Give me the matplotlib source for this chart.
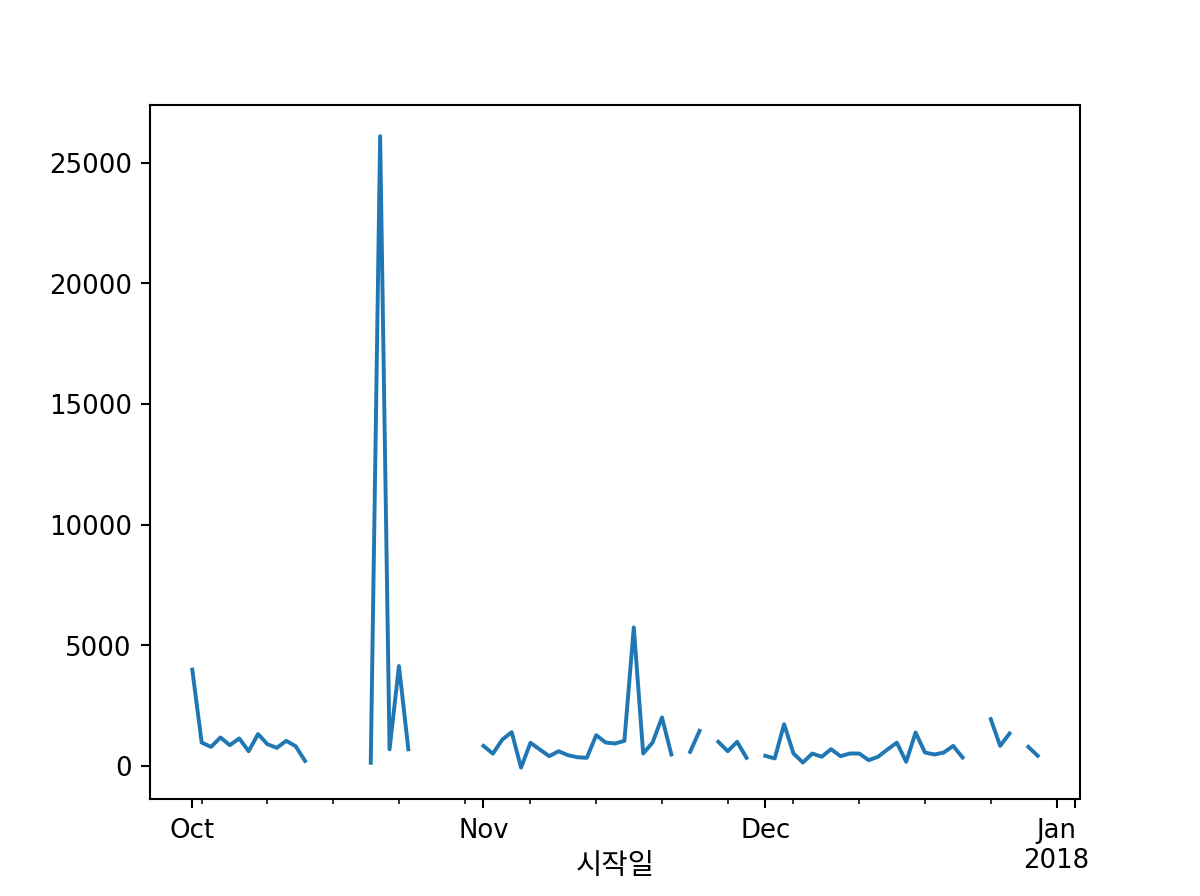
import numpy as np
import pandas as pd
import matplotlib
matplotlib.use("Agg")
import matplotlib.pyplot as plt

plt.rcParams['font.family'] = ['DejaVu Sans', 'Noto Sans CJK KR']

# daily values, 2017-10-01 .. 2017-12-30 (NaN = missing day)
start_date = '2017-10-01'
oct_vals = [4000, 980, 800, 1190, 870, 1150, 620, 1330, 910, 760, 1050, 830, 220,
            None, None, None, None, None, None,
            140, 26100, 700, 4150, 700,
            None, None, None, None, None, None, None]
nov_vals = [840, 520, 1100, 1410, -60, 970, 690, 415, 620, 455, 370, 345, 1285, 980,
            940, 1050, 5750, 525, 980, 2020, 485, None, 595, 1465, None, 1010, 620,
            1010, 345, None]
dec_vals = [430, 320, 1740, 525, 150, 525, 390, 705, 415, 525, 525, 250, 390, 690,
            975, 180, 1395, 565, 485, 565, 840, 360, None, None, 1950, 840, 1355,
            None, 800, 430]

values = np.array([np.nan if v is None else v for v in oct_vals + nov_vals + dec_vals], dtype=float)
dates = pd.date_range(start_date, periods=len(values), freq='D')
s = pd.Series(values, index=dates)

month_ticks = pd.to_datetime(['2017-10-01', '2017-11-01', '2017-12-01', '2018-01-01', '2018-01-03'])
month_labels = ['Oct', 'Nov', 'Dec', 'Jan\n2018', '']
week_ticks = pd.date_range('2017-10-02', '2018-01-01', freq='7D')

fig, ax = plt.subplots(figsize=(6.4, 4.78), dpi=187.5)
ax.plot(s.index, s.values, color='#1f77b4', linewidth=1.5)

ax.set_xticks(month_ticks)
ax.set_xticklabels(month_labels)
ax.set_xticks(week_ticks, minor=True)
ax.set_xlabel('시작일', fontsize=11)
# label sits beside the second line of the "Jan 2018" tick label
ax.xaxis.set_label_coords(0.5, -0.075)

fig.subplots_adjust(left=0.125, right=0.9, top=0.883, bottom=0.108)
fig.savefig('out.png', dpi=187.5)
